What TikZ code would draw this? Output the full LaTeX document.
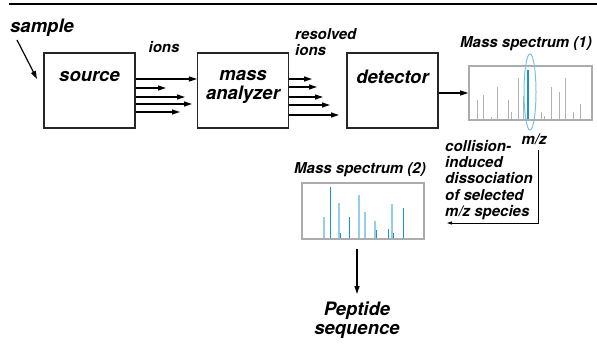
\documentclass[tikz,border=0pt]{standalone}
\usepackage{fontspec}
\setmainfont{TeX Gyre Heros}
\usetikzlibrary{arrows.meta,positioning}
\definecolor{peakblue}{RGB}{20,150,200}
\definecolor{peaklight}{RGB}{150,205,232}
\definecolor{ringblue}{RGB}{130,190,225}

\begin{document}
\begin{tikzpicture}[x=1pt,y=-1pt,
  big/.style={font=\fontsize{18.5}{19}\selectfont\bfseries\itshape, inner sep=0pt},
  small/.style={font=\fontsize{15}{16.3}\selectfont\bfseries\itshape, inner sep=0pt},
  stage/.style={draw=black!85, line width=1.1pt, minimum width=91pt, minimum height=75pt, inner sep=0pt},
  spec/.style={draw=gray!65, line width=1.6pt, inner sep=0pt},
  beam/.style={line width=1.2pt, -{Triangle[length=8pt,width=5pt]}},
  relay/.style={line width=0.8pt, -{Triangle[length=5pt,width=3pt]}},
  peak/.style={gray!60, line width=0.8pt}]
\useasboundingbox (0,0) rectangle (597,353);
\draw[line width=2.5pt] (9,4) -- (597,4);

\node[stage] (source) at (89.5,90.5) {};
\node[stage] (analyzer) at (243,90.5) {};
\node[stage] (detector) at (392.5,90.5) {};
\node[big] at ([yshift=-24pt]source.north) {source};
\node[big, align=center] at ([yshift=-34pt]analyzer.north) {mass\\analyzer};
\node[big] at ([yshift=-24pt]detector.north) {detector};

\node[big, anchor=west] (sample) at (10,28) {sample};
\coordinate (samplein) at (37,79);
\draw[beam] ([xshift=7pt,yshift=-3pt]sample.south west) -- (samplein);

\node[small, anchor=base] (ions) at (164,53) {ions};
\node[small, anchor=north west, align=left] (resolved) at (295,28) {resolved\\ions};

\draw[beam] (source.east |- 0,79) -- (analyzer.west |- 0,79);
\foreach \y/\t in {88/166,97/185,104/192,112/180}
  \draw[beam] (source.east |- 0,\y) -- (\t,\y);
\foreach \y/\t in {79/312,87/317,97/323,105/330,115/339}
  \draw[beam] (analyzer.east |- 0,\y) -- (\t,\y);

% spectrum (1)
\node[spec, minimum width=123pt, minimum height=54pt] (ms1) at (530.5,93) {};
\node[small, anchor=base] (ms1title) at (526,48) {Mass spectrum (1)};
\draw[beam] (detector.east |- 0,93) -- (ms1.west |- 0,93);
\foreach \x/\t in {477/100,483/95,491/117,497/87,508/100,511/112,518/78,523/96,
                   541/112,544/116,551/87,559/92,565/78,573/112,580/104}
  \draw[peak] (\x,119) -- (\x,\t);
\draw[peakblue, line width=1.2pt] (528,119) -- (528,70);
\draw[ringblue, line width=1pt] (530,92) ellipse (6pt and 38pt);
\node[small, anchor=base] (mz) at (534,144) {m/z};

\node[small, anchor=north west, align=left] (cid) at (445,140)
  {collision-\\induced\\dissociation\\of selected\\m/z species};
\coordinate (cidend) at (447,223);
\draw[relay] ([yshift=-6pt]mz.south -| 538,0) |- (cidend);

% spectrum (2)
\node[spec, minimum width=122pt, minimum height=56pt] (ms2) at (363,211) {};
\node[small, anchor=base] (ms2title) at (360,173) {Mass spectrum (2)};
\foreach \x/\t in {324/217,339/203,359/195,365/212,375/221,392/204}
  \draw[peaklight, line width=1.1pt] (\x,238) -- (\x,\t);
\foreach \x/\t in {330/187,340/233,349/217,376/230,388/229,393/233,403/208}
  \draw[peakblue, line width=0.9pt] (\x,238) -- (\x,\t);

\node[big, anchor=north, align=center] (peptide) at (357,302) {Peptide\\sequence};
\draw[beam] ([yshift=-9pt]ms2.south -| peptide.north) -- ([yshift=8pt]peptide.north);
\end{tikzpicture}
\end{document}
